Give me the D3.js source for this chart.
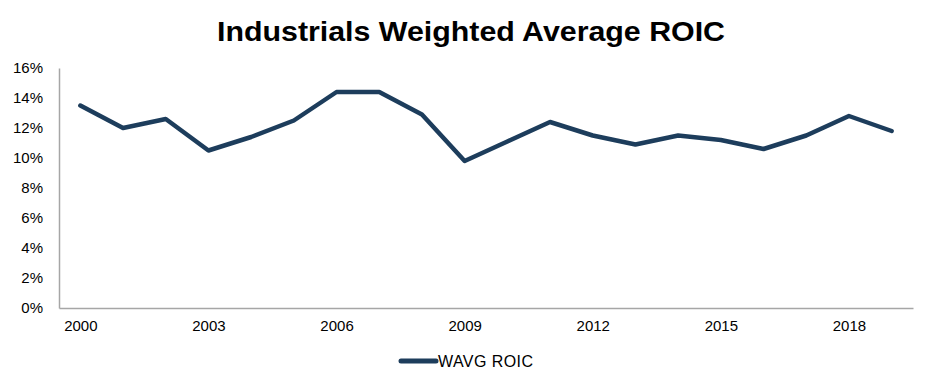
<!DOCTYPE html>
<html>
<head>
<meta charset="utf-8">
<script src="https://cdn.jsdelivr.net/npm/d3@7"></script>
<style>
  body { margin: 0; background: #fff; }
  text { font-family: "Liberation Sans", Arial, sans-serif; }
</style>
</head>
<body>
<div id="chart"></div>
<script>
// data
var years = d3.range(2000, 2020);
var roic = [13.5, 12.0, 12.6, 10.5, 11.4, 12.5, 14.4, 14.4, 12.9, 9.8,
            11.1, 12.4, 11.5, 10.9, 11.5, 11.2, 10.6, 11.5, 12.8, 11.8];
var yTicks = [0, 2, 4, 6, 8, 10, 12, 14, 16];
var xTickYears = [2000, 2003, 2006, 2009, 2012, 2015, 2018];
var seriesName = "WAVG ROIC";

var totalWidth = 930, totalHeight = 385;
var margin = {top: 68, right: 17, bottom: 77, left: 59},
    width = totalWidth - margin.left - margin.right,
    height = totalHeight - margin.top - margin.bottom;

var color = "#1d3d5c";

var svg = d3.select("#chart").append("svg")
    .attr("width", totalWidth)
    .attr("height", totalHeight);

svg.append("text")
    .attr("x", 471)
    .attr("y", 41)
    .attr("text-anchor", "middle")
    .attr("textLength", 508)
    .attr("lengthAdjust", "spacingAndGlyphs")
    .style("font-size", "27px")
    .style("font-weight", "bold")
    .text("Industrials Weighted Average ROIC");

var g = svg.append("g")
    .attr("transform", "translate(" + margin.left + "," + margin.top + ")");

var x = d3.scaleLinear()
    .domain([1999.5, 2019.5])
    .range([0, width]);

var y = d3.scaleLinear()
    .domain([0, 16])
    .range([height, 0]);

// y axis
var yAxis = g.append("g")
    .call(d3.axisLeft(y).tickValues(yTicks).tickSize(0).tickPadding(16)
      .tickFormat(function(d) { return d + "%"; }));
yAxis.select(".domain").attr("stroke", "#a6a6a6").attr("stroke-width", 1.5);
yAxis.selectAll("text").style("font-size", "15px").attr("fill", "#000");

// x axis
var xAxis = g.append("g")
    .attr("transform", "translate(0," + height + ")")
    .call(d3.axisBottom(x).tickValues(xTickYears).tickSize(0).tickPadding(12)
      .tickFormat(d3.format("d")));
xAxis.select(".domain").attr("stroke", "#a6a6a6").attr("stroke-width", 1.5);
xAxis.selectAll("text").style("font-size", "15px").attr("fill", "#000");

// line
var line = d3.line()
    .x(function(d, i) { return x(years[i]); })
    .y(function(d) { return y(d); });

g.append("path")
    .datum(roic)
    .attr("fill", "none")
    .attr("stroke", color)
    .attr("stroke-width", 4.5)
    .attr("stroke-linejoin", "round")
    .attr("stroke-linecap", "round")
    .attr("d", line);

// legend
var legend = svg.append("g").attr("transform", "translate(401,361)");
legend.append("line")
    .attr("x1", 0).attr("x2", 35)
    .attr("stroke", color)
    .attr("stroke-width", 5)
    .attr("stroke-linecap", "round");
legend.append("text")
    .attr("x", 37)
    .attr("y", 6)
    .attr("textLength", 95)
    .style("font-size", "16px")
    .text(seriesName);
</script>
</body>
</html>
